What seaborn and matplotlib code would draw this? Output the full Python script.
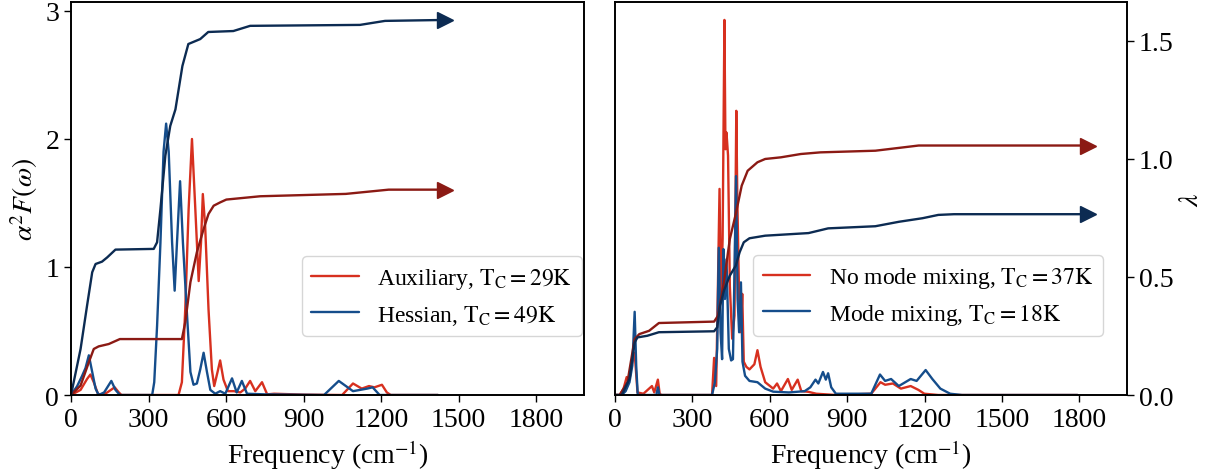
import numpy as np
import matplotlib
matplotlib.use("Agg")
import matplotlib.pyplot as plt
import seaborn as sns

# ── Spectra (frequency in cm^-1) ─────────────────────────────────
# left panel: a2F for auxiliary / hessian approaches
aux_freq = [0, 37, 62, 75, 88, 104, 120, 140, 169, 185, 195, 416, 429, 442, 455, 468, 481,
            494, 503, 510, 519, 532, 545, 554, 567, 577, 590, 607, 630, 655, 674, 693, 713,
            739, 759, 786, 900, 1049, 1091, 1125, 1153, 1174, 1203, 1222, 1237, 1420]
aux_a2f = [0, 0.04, 0.125, 0.16, 0.10, 0.01, 0, 0.02, 0.06, 0.02, 0, 0, 0.10, 0.67, 1.45, 2.0,
           1.45, 0.89, 1.19, 1.57, 1.32, 0.67, 0.20, 0.07, 0.18, 0.27, 0.12, 0.03, 0.03, 0.02,
           0.05, 0.11, 0.03, 0.10, 0.005, 0.01, 0.003, 0, 0.09, 0.05, 0.07, 0.06, 0.08, 0.02, 0, 0]

hes_freq = [0, 24, 43, 56, 69, 82, 95, 107, 128, 156, 172, 189, 314, 322, 333, 346, 358, 368,
            378, 391, 401, 410, 422, 433, 449, 462, 474, 487, 500, 513, 526, 539, 558, 577,
            597, 623, 641, 661, 681, 750, 979, 1036, 1091, 1146, 1167, 1194, 1420]
hes_a2f = [0, 0.07, 0.15, 0.21, 0.31, 0.18, 0.05, 0, 0.02, 0.11, 0.04, 0, 0, 0.10, 0.54, 1.19,
           1.90, 2.12, 1.90, 1.195, 0.815, 1.19, 1.67, 1.19, 0.62, 0.18, 0.08, 0.09, 0.20, 0.33,
           0.18, 0.04, 0.01, 0.03, 0.01, 0.13, 0.02, 0.11, 0.01, 0.005, 0, 0.11, 0.03, 0.05,
           0.06, 0, 0]

# left panel: cumulative lambda
aux_lam_freq = [0, 37, 69, 88, 107, 146, 189, 429, 442, 462, 487, 513, 532, 552, 577, 601,
                732, 1063, 1229, 1448]
aux_lam = [0, 0.04, 0.139, 0.195, 0.206, 0.216, 0.237, 0.237, 0.308, 0.478, 0.605, 0.703,
           0.767, 0.802, 0.816, 0.828, 0.842, 0.852, 0.87, 0.87]

hes_lam_freq = [0, 37, 62, 82, 95, 120, 140, 172, 320, 333, 346, 365, 384, 404, 431, 454, 500,
                531, 628, 693, 1118, 1215, 1448]
hes_lam = [0, 0.195, 0.378, 0.52, 0.555, 0.565, 0.583, 0.616, 0.619, 0.647, 0.788, 1.014,
           1.14, 1.21, 1.394, 1.487, 1.508, 1.538, 1.542, 1.564, 1.568, 1.585, 1.589]

# right panel: a2F without / with mode mixing
nomix_freq = [0, 18, 33, 45, 56, 64, 76, 87, 110, 132, 143, 152, 166, 173, 180, 376, 384, 392,
              399, 405, 411, 417, 424, 428, 432, 438, 445, 454, 463, 470, 474, 481, 488, 493,
              499, 509, 521, 540, 552, 564, 582, 613, 628, 643, 670, 685, 708, 722, 749, 780,
              856, 993, 1029, 1047, 1077, 1108, 1146, 1176, 1199, 1253, 1793]
nomix_a2f = [0, 0, 0.05, 0.14, 0.12, 0.23, 0.33, 0.02, 0.01, 0.05, 0.07, 0.02, 0.12, 0.01, 0,
             0, 0.29, 0.07, 0.88, 1.61, 0.75, 1.22, 2.93, 1.92, 2.05, 1.87, 0.85, 0.44, 0.62,
             2.22, 1.53, 0.75, 0.49, 0.79, 0.26, 0.22, 0.2, 0.24, 0.35, 0.22, 0.10, 0.05, 0.09,
             0.03, 0.125, 0.04, 0.12, 0.03, 0.025, 0.01, 0, 0.01, 0.10, 0.08, 0.09, 0.05, 0.07,
             0.04, 0.01, 0, 0]

mix_freq = [0, 26, 41, 56, 67, 76, 82, 88, 160, 166, 172, 376, 387, 396, 402, 409, 415, 420,
            426, 432, 441, 450, 457, 463, 469, 475, 481, 488, 494, 504, 521, 552, 582, 613,
            674, 735, 757, 777, 788, 806, 817, 826, 838, 856, 993, 1027, 1047, 1070, 1100,
            1146, 1169, 1204, 1230, 1261, 1299, 1345, 1793]
mix_a2f = [0, 0, 0.03, 0.10, 0.23, 0.65, 0.23, 0, 0, 0.06, 0, 0, 0.10, 0.36, 1.15, 0.49, 0.28,
           1.14, 0.75, 1.06, 0.36, 0.27, 0.28, 0.96, 1.71, 0.75, 0.49, 0.88, 0.26, 0.15, 0.11,
           0.10, 0.05, 0.026, 0.02, 0.03, 0.06, 0.12, 0.09, 0.18, 0.12, 0.17, 0.06, 0.01, 0.01,
           0.16, 0.11, 0.125, 0.07, 0.125, 0.11, 0.195, 0.125, 0.05, 0.01, 0, 0]

# right panel: cumulative lambda
nomix_lam_freq = [0, 18, 48, 76, 94, 132, 170, 384, 399, 422, 445, 468, 491, 514, 552, 582,
                  643, 720, 796, 1009, 1101, 1177, 1833]
nomix_lam = [0, 0, 0.054, 0.237, 0.258, 0.272, 0.305, 0.311, 0.336, 0.478, 0.661, 0.767,
             0.887, 0.95, 0.986, 1.0, 1.007, 1.021, 1.028, 1.035, 1.047, 1.057, 1.057]

mix_lam_freq = [0, 26, 56, 76, 87, 125, 170, 384, 396, 407, 422, 445, 468, 483, 499, 521, 582,
                750, 826, 1009, 1101, 1192, 1253, 1314, 1833]
mix_lam = [0, 0, 0.068, 0.223, 0.244, 0.251, 0.266, 0.27, 0.287, 0.378, 0.442, 0.506, 0.548,
           0.605, 0.647, 0.664, 0.675, 0.686, 0.706, 0.715, 0.734, 0.749, 0.763, 0.766, 0.766]

labels_left = [r"Auxiliary, $\mathrm{T_C=29K}$", r"Hessian, $\mathrm{T_C=49K}$"]
labels_right = [r"No mode mixing, $\mathrm{T_C=37K}$", r"Mode mixing, $\mathrm{T_C=18K}$"]
x_ticks = [0, 300, 600, 900, 1200, 1500, 1800]

RED = "#d7301f"
BLUE = "#154d8b"
DARK_RED = "#8b1a14"
DARK_BLUE = "#0c2b52"

# ── Style ─────────────────────────────────────────────────────────
sns.set_style("ticks")
plt.rcParams["font.family"] = ["Liberation Serif", "DejaVu Serif"]
plt.rcParams["mathtext.fontset"] = "stix"
plt.rcParams["axes.edgecolor"] = "black"
plt.rcParams["axes.labelcolor"] = "black"
plt.rcParams["text.color"] = "black"
plt.rcParams["xtick.color"] = "black"
plt.rcParams["ytick.color"] = "black"
plt.rcParams["axes.linewidth"] = 1.2

fig = plt.figure(figsize=(12.16, 4.77), dpi=100)
ax1 = fig.add_axes([0.0584, 0.1698, 0.4219, 0.8239])
ax2 = fig.add_axes([0.5058, 0.1698, 0.4211, 0.8239], sharey=ax1)
tw1 = ax1.twinx()
tw2 = ax2.twinx()

A2F_MAX = 3.07
LAM_MAX = 1.665


def draw_panel(ax, tw, specs, lams, labels, legend_x):
    for (fr, val, col), lab in zip(specs, labels):
        sns.lineplot(x=fr, y=val, ax=ax, color=col, linewidth=1.7, label=lab,
                     estimator=None, sort=False)
    for fr, val, col in lams:
        sns.lineplot(x=fr, y=val, ax=tw, color=col, linewidth=1.7, estimator=None,
                     sort=False, legend=False)
        tw.plot(fr[-1:], val[-1:], marker=">", markersize=11, color=col, linestyle="none")
    ax.set_xlim(0, 1985)
    ax.set_ylim(0, A2F_MAX)
    tw.set_ylim(0, LAM_MAX)
    ax.set_xticks(x_ticks)
    ax.set_xlabel(r"Frequency (cm$^{-1}$)", fontsize=20)
    ax.tick_params(axis="both", labelsize=20, direction="out", length=5, width=1)
    tw.tick_params(axis="y", labelsize=20, direction="out", length=5, width=1)
    leg = ax.legend(loc="lower left", bbox_to_anchor=(legend_x, 0.15), borderaxespad=0,
                    fontsize=17, frameon=True, fancybox=True, framealpha=0.8)
    leg.get_frame().set_edgecolor("#cccccc")


draw_panel(ax1, tw1,
           [(aux_freq, aux_a2f, RED), (hes_freq, hes_a2f, BLUE)],
           [(aux_lam_freq, aux_lam, DARK_RED), (hes_lam_freq, hes_lam, DARK_BLUE)],
           labels_left, 0.45)
draw_panel(ax2, tw2,
           [(nomix_freq, nomix_a2f, RED), (mix_freq, mix_a2f, BLUE)],
           [(nomix_lam_freq, nomix_lam, DARK_RED), (mix_lam_freq, mix_lam, DARK_BLUE)],
           labels_right, 0.27)

ax1.set_yticks([0, 1, 2, 3])
ax1.set_ylabel(r"$\alpha^2F(\omega)$", fontsize=20)
tw1.set_yticks([])
tw1.set_ylabel("")

ax2.tick_params(axis="y", left=False, labelleft=False)
ax2.set_ylabel("")
tw2.set_yticks([0, 0.5, 1.0, 1.5])
tw2.set_yticklabels(["0.0", "0.5", "1.0", "1.5"])
tw2.set_ylabel(r"$\lambda$", fontsize=20)

fig.savefig("out.png", dpi=100)
print("saved out.png")
